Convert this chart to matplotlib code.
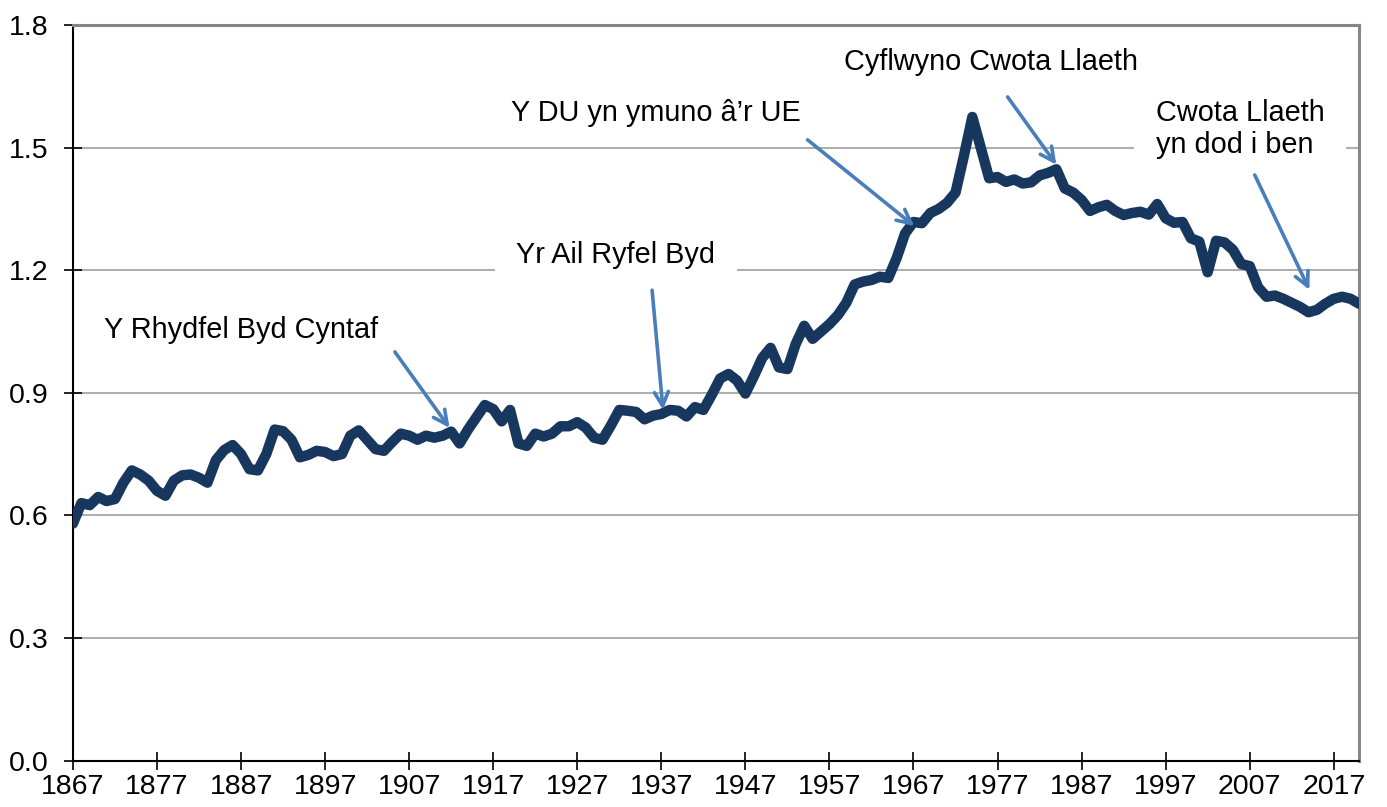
import matplotlib
matplotlib.use("Agg")
import matplotlib.pyplot as plt
import numpy as np

plt.rcParams['font.family'] = ['Liberation Sans', 'DejaVu Sans']

# annual values, 1867-2020
years = np.arange(1867, 2021)
values = [
    0.58, 0.63, 0.625, 0.645, 0.635, 0.64, 0.68, 0.71, 0.70, 0.685,   # 1867-1876
    0.66, 0.648, 0.685, 0.698, 0.70, 0.692, 0.68, 0.735, 0.76, 0.772, # 1877-1886
    0.75, 0.713, 0.71, 0.75, 0.81, 0.806, 0.785, 0.742, 0.748, 0.758, # 1887-1896
    0.755, 0.745, 0.75, 0.795, 0.808, 0.785, 0.762, 0.758, 0.78, 0.80, # 1897-1906
    0.795, 0.785, 0.795, 0.79, 0.795, 0.805, 0.776, 0.81, 0.84, 0.87, # 1907-1916
    0.86, 0.83, 0.858, 0.776, 0.77, 0.80, 0.793, 0.80, 0.818, 0.818,  # 1917-1926
    0.828, 0.815, 0.79, 0.785, 0.82, 0.858, 0.856, 0.853, 0.835, 0.844, # 1927-1936
    0.848, 0.858, 0.856, 0.842, 0.865, 0.858, 0.895, 0.935, 0.946, 0.93, # 1937-1946
    0.898, 0.94, 0.985, 1.01, 0.962, 0.958, 1.02, 1.064, 1.032, 1.05, # 1947-1956
    1.068, 1.09, 1.12, 1.165, 1.172, 1.176, 1.184, 1.181, 1.23, 1.29, # 1957-1966
    1.318, 1.315, 1.34, 1.35, 1.365, 1.39, 1.48, 1.575, 1.50, 1.425,  # 1967-1976
    1.428, 1.416, 1.422, 1.412, 1.415, 1.432, 1.438, 1.447, 1.40, 1.39, # 1977-1986
    1.372, 1.345, 1.354, 1.36, 1.345, 1.335, 1.34, 1.343, 1.336, 1.362, # 1987-1996
    1.327, 1.316, 1.318, 1.278, 1.27, 1.195, 1.272, 1.268, 1.25, 1.215, # 1997-2006
    1.21, 1.158, 1.135, 1.138, 1.13, 1.12, 1.11, 1.097, 1.103, 1.118, # 2007-2016
    1.13, 1.135, 1.13, 1.118,                                         # 2017-2020
]

tick_years = list(range(1867, 2018, 10))
y_ticks = [0.0, 0.3, 0.6, 0.9, 1.2, 1.5, 1.8]

line_color = '#17375e'
arrow_color = '#4a7ebb'

fig = plt.figure(figsize=(13.87, 8.07), dpi=100)
ax = fig.add_axes([0.0526, 0.0576, 0.9272, 0.9114])

ax.plot(years, values, color=line_color, lw=7.5, solid_joinstyle='round',
        solid_capstyle='round', zorder=3)

ax.set_xlim(1867, 2020)
ax.set_ylim(0, 1.8)
ax.set_xticks(tick_years)
ax.set_yticks(y_ticks)
ax.set_yticklabels([f"{v:.1f}" for v in y_ticks])
ax.yaxis.grid(True, color='#a6a6a6', lw=1.3)
ax.set_axisbelow(True)

ax.tick_params(axis='both', direction='inout', length=13, width=1.2,
               labelsize=20.5, color='black')
ax.tick_params(axis='x', pad=3)
ax.tick_params(axis='y', pad=11)

for side in ['top', 'right']:
    ax.spines[side].set_color('#868686')
    ax.spines[side].set_linewidth(2.2)
for side in ['left', 'bottom']:
    ax.spines[side].set_color('black')
    ax.spines[side].set_linewidth(1.5)

# annotations: (text, text position, arrow start, arrow tip, alignment, boxed)
notes = [
    ("Y Rhydfel Byd Cyntaf", (1887.0, 1.054), (1905.3, 1.000), (1911.8, 0.814), 'center', False),
    ("Yr Ail Ryfel Byd", (1931.6, 1.237), (1935.9, 1.151), (1937.2, 0.858), 'center', True),
    ("Y DU yn ymuno â’r UE", (1936.4, 1.585), (1954.4, 1.519), (1967.1, 1.308), 'center', False),
    ("Cyflwyno Cwota Llaeth", (1976.2, 1.709), (1978.2, 1.624), (1984.0, 1.458), 'center', False),
    ("Cwota Llaeth\nyn dod i ben", (1995.8, 1.545), (2007.6, 1.433), (2014.1, 1.152), 'left', True),
]

for txt, pos, start, tip, ha, boxed in notes:
    kw = {}
    if boxed:
        kw['bbox'] = dict(boxstyle='square,pad=0.75', fc='white', ec='none')
    ax.text(pos[0], pos[1], txt, ha=ha, va='center', fontsize=20.8,
            linespacing=1.2, zorder=4, **kw)
    ax.annotate('', xy=tip, xytext=start,
                arrowprops=dict(arrowstyle='->,head_length=1.0,head_width=0.5',
                                color=arrow_color, lw=2.6, shrinkA=0, shrinkB=0),
                zorder=5)

fig.savefig('out.png', dpi=100)
